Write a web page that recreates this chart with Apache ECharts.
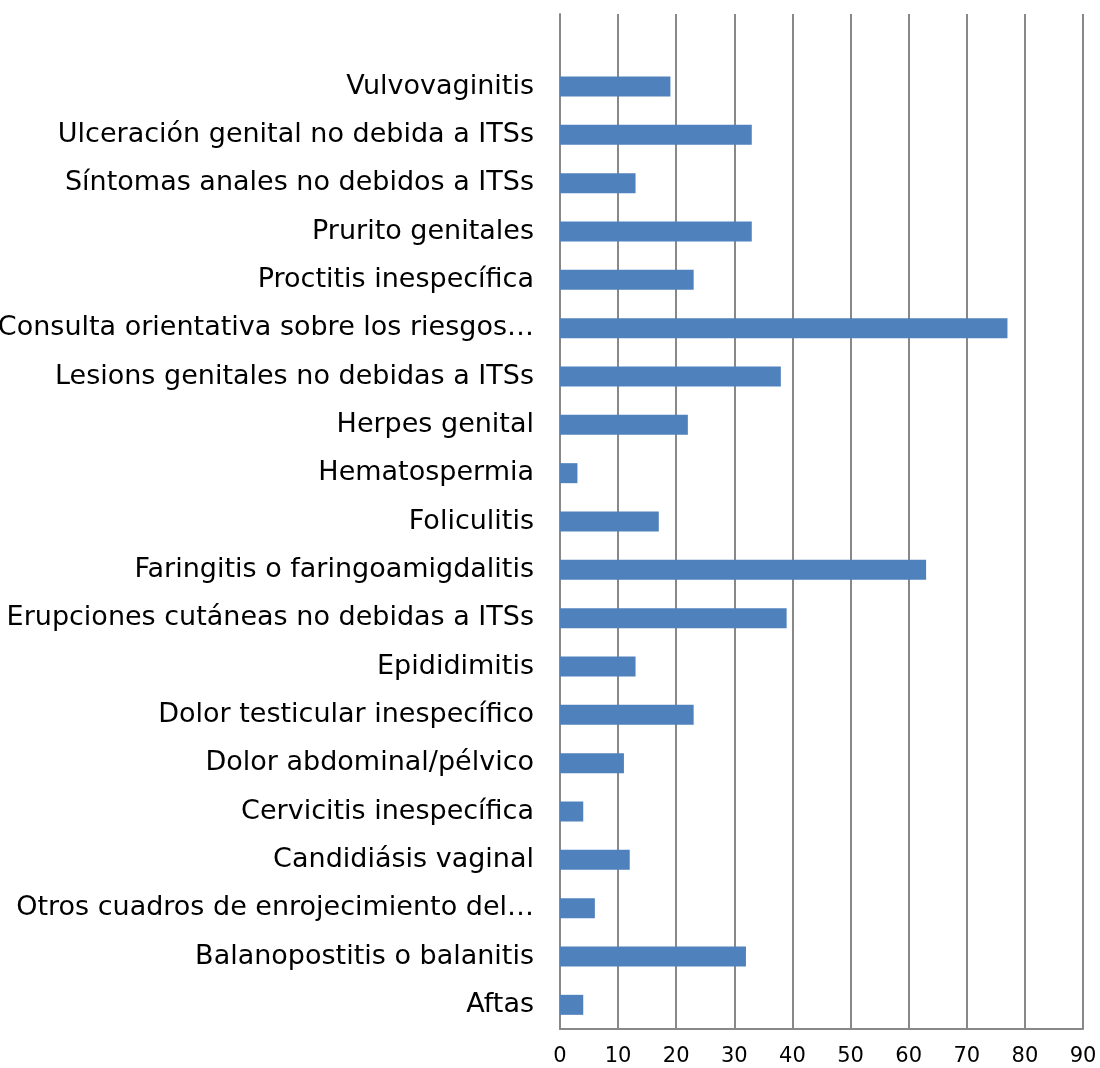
<!DOCTYPE html>
<html><head><meta charset="utf-8">
<script src="https://cdn.jsdelivr.net/npm/echarts@6/dist/echarts.min.js"></script>
<style>html,body{margin:0;padding:0;background:#fff}#c{width:1100px;height:1068px}</style>
</head><body><div id="c"></div>
<script>
var categories = [
  'Aftas',
  'Balanopostitis o balanitis',
  'Otros cuadros de enrojecimiento del…',
  'Candidiásis vaginal',
  'Cervicitis inespecífica',
  'Dolor abdominal/pélvico',
  'Dolor testicular inespecífico',
  'Epididimitis',
  'Erupciones cutáneas no debidas a ITSs',
  'Faringitis o faringoamigdalitis',
  'Foliculitis',
  'Hematospermia',
  'Herpes genital',
  'Lesions genitales no debidas a ITSs',
  'Consulta orientativa sobre los riesgos…',
  'Proctitis inespecífica',
  'Prurito genitales',
  'Síntomas anales no debidos a ITSs',
  'Ulceración genital no debida a ITSs',
  'Vulvovaginitis',
  ''
];
var values = [4, 32, 6, 12, 4, 11, 23, 13, 39, 63, 17, 3, 22, 38, 77, 23, 33, 13, 33, 19, null];
var xTicks = { min: 0, max: 90, interval: 10 };

var chart = echarts.init(document.getElementById('c'));
chart.setOption({
  animation: false,
  grid: { left: 560, right: 17, top: 14, bottom: 39, containLabel: false, outerBoundsMode: 'none' },
  xAxis: {
    type: 'value', min: xTicks.min, max: xTicks.max, interval: xTicks.interval,
    axisLine: { show: true, lineStyle: { color: '#888', width: 2 } },
    axisTick: { show: false },
    splitLine: { show: true, lineStyle: { color: '#888', width: 2 } },
    axisLabel: { color: '#000', fontFamily: 'DejaVu Sans', fontSize: 21, margin: 17 }
  },
  yAxis: {
    type: 'category', data: categories,
    axisLine: { show: true, lineStyle: { color: '#888', width: 2 } },
    axisTick: { show: false },
    axisLabel: { color: '#000', fontFamily: 'DejaVu Sans', fontSize: 27, margin: 26, interval: 0 }
  },
  series: [{
    type: 'bar', data: values, barWidth: 20,
    itemStyle: { color: '#4F81BD' }
  }]
});
</script></body></html>
